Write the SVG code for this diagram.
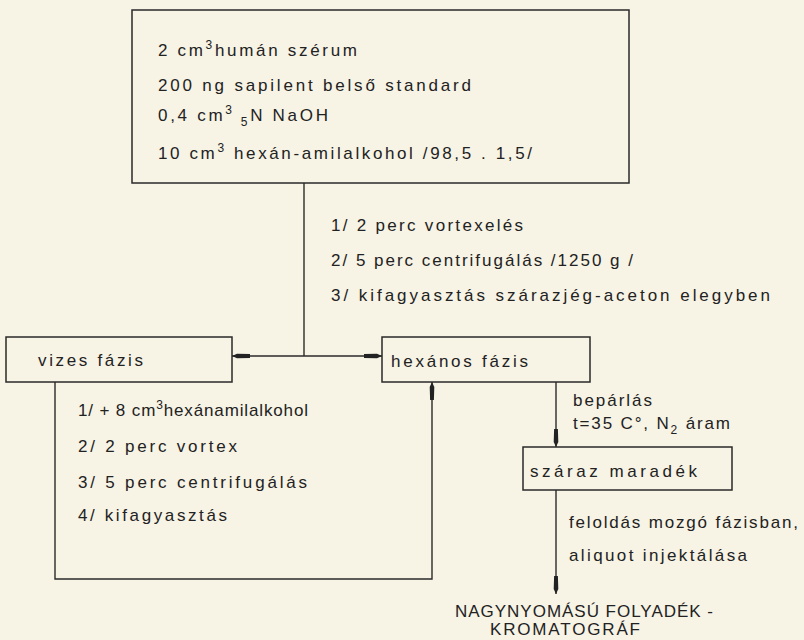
<svg xmlns="http://www.w3.org/2000/svg" width="804" height="640" viewBox="0 0 804 640">
  <defs>
    <marker id="arr" markerUnits="userSpaceOnUse" markerWidth="20" markerHeight="8" refX="18" refY="3.5" orient="auto">
      <path d="M0,1.6 L13,1.2 L18,3.5 L13,5.8 L0,5.4 Z" fill="#222"/>
    </marker>
    <style>
      .box { fill: none; stroke: #2a2a2a; stroke-width: 1.5; }
      .ln { fill: none; stroke: #2a2a2a; stroke-width: 1.4; }
      text { font-family: "Liberation Sans", Arial, sans-serif; font-size: 17px; fill: #222; }
      .big { font-size: 17px; }
      .sup { font-size: 12px; }
    </style>
  </defs>
  <rect width="804" height="640" fill="#f7f3e5"/>

  <g id="connectors">
    <line class="ln" x1="304" y1="183" x2="304" y2="356"/>
    <line class="ln" x1="304" y1="356" x2="232" y2="356" marker-end="url(#arr)"/>
    <line class="ln" x1="304" y1="356" x2="382" y2="356" marker-end="url(#arr)"/>
    <polyline class="ln" points="55,382 55,579 432,579 432,382" marker-end="url(#arr)"/>
    <line class="ln" x1="556" y1="382" x2="556" y2="447" marker-end="url(#arr)"/>
    <line class="ln" x1="556" y1="490" x2="556" y2="594" marker-end="url(#arr)"/>
  </g>

  <g id="start">
    <rect class="box" x="132" y="10" width="497" height="173"/>
    <text x="158" y="56" textLength="199" lengthAdjust="spacing">2 cm<tspan class="sup" dy="-7">3</tspan><tspan dy="7">humán szérum</tspan></text>
    <text x="158" y="91" textLength="313" lengthAdjust="spacing">200 ng sapilent belső standard</text>
    <text x="158" y="121" textLength="170" lengthAdjust="spacing">0,4 cm<tspan class="sup" dy="-7">3</tspan><tspan class="sup" dy="12"> 5</tspan><tspan dy="-5">N  NaOH</tspan></text>
    <text x="158" y="159" textLength="374" lengthAdjust="spacing">10 cm<tspan class="sup" dy="-7">3</tspan><tspan dy="7"> hexán-amilalkohol /98,5 . 1,5/</tspan></text>
  </g>

  <g id="step-labels">
    <text x="331" y="231" textLength="192" lengthAdjust="spacing">1/ 2 perc vortexelés</text>
    <text x="331" y="266" textLength="302" lengthAdjust="spacing">2/ 5 perc centrifugálás /1250 g /</text>
    <text x="331" y="301" textLength="439" lengthAdjust="spacing">3/ kifagyasztás szárazjég-aceton elegyben</text>
  </g>

  <g id="vizes">
    <rect class="box" x="6" y="337" width="226" height="45"/>
    <text x="38" y="366" textLength="105" lengthAdjust="spacing">vizes fázis</text>
  </g>

  <g id="vizes-steps">
    <text x="78" y="416" textLength="230" lengthAdjust="spacing">1/ + 8 cm<tspan class="sup" dy="-7">3</tspan><tspan dy="7">hexánamilalkohol</tspan></text>
    <text x="78" y="452" textLength="159" lengthAdjust="spacing">2/ 2 perc vortex</text>
    <text x="78" y="488" textLength="229" lengthAdjust="spacing">3/ 5 perc centrifugálás</text>
    <text x="78" y="521" textLength="149" lengthAdjust="spacing">4/ kifagyasztás</text>
  </g>

  <g id="hexanos">
    <rect class="box" x="382" y="337" width="208" height="45"/>
    <text x="391" y="367" textLength="137" lengthAdjust="spacing">hexános fázis</text>
  </g>

  <g id="beparlas-label">
    <text x="573" y="406" textLength="79" lengthAdjust="spacing">bepárlás</text>
    <text x="573" y="429" textLength="157" lengthAdjust="spacing">t=35 C°, N<tspan class="sup" dy="5">2</tspan><tspan dy="-5"> áram</tspan></text>
  </g>

  <g id="szaraz">
    <rect class="box" x="523" y="447" width="209" height="43"/>
    <text x="530" y="477" textLength="167" lengthAdjust="spacing">száraz maradék</text>
  </g>

  <g id="feloldas-label">
    <text x="569" y="528" textLength="229" lengthAdjust="spacing">feloldás mozgó fázisban,</text>
    <text x="569" y="561" textLength="178" lengthAdjust="spacing">aliquot injektálása</text>
  </g>

  <g id="hplc">
    <text class="big" x="455" y="617" textLength="258" lengthAdjust="spacing">NAGYNYOMÁSÚ FOLYADÉK -</text>
    <text class="big" x="490" y="635" textLength="150" lengthAdjust="spacing">KROMATOGRÁF</text>
  </g>
</svg>
